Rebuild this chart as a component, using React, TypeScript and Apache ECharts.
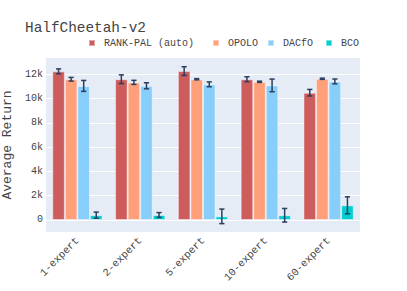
import React, { useEffect, useRef } from "react";
import * as echarts from "echarts";

const categories = ["1-expert", "2-expert", "5-expert", "10-expert", "60-expert"];
const seriesNames = ["RANK-PAL (auto)", "OPOLO", "DACfO", "BCO"];
const rankPal = [12250, 11600, 12270, 11600, 10490];
const rankPalErr = [200, 360, 360, 200, 270];
const opolo = [11600, 11340, 11600, 11390, 11640];
const opoloErr = [150, 170, 50, 50, 50];
const dacfo = [11050, 11060, 11180, 11090, 11420];
const dacfoErr = [450, 250, 200, 520, 200];
const bco = [400, 410, 300, 390, 1210];
const bcoErr = [250, 200, 600, 560, 700];
const colors = ["#CD5C5C", "#FFA07A", "#87CEFA", "#00CED1"];
const legendLeft = [88, 212, 267, 325];

const FONT = "'Liberation Mono', 'Courier New', monospace";

export default function App() {
  const ref = useRef<HTMLDivElement>(null);
  useEffect(() => {
    document.body.style.margin = "0";
    if (!ref.current) return;
    const chart = echarts.init(ref.current, null, { renderer: "svg" });
    const vals = [rankPal, opolo, dacfo, bco];
    const errs = [rankPalErr, opoloErr, dacfoErr, bcoErr];
    const barSeries = vals.map((v, k) => ({
      type: "bar",
      name: seriesNames[k],
      data: v,
      barCategoryGap: "20%",
      barGap: "0%",
      itemStyle: { color: colors[k], borderColor: "rgba(255,255,255,0.45)", borderWidth: 1 },
      z: 2,
    }));
    const errSeries = vals.map((v, k) => ({
      type: "custom",
      name: "err" + k,
      z: 5,
      silent: true,
      data: v.map((y, i) => [i, y, errs[k][i]]),
      encode: { x: 0, y: 1 },
      renderItem: (params: any, api: any) => {
        const ci = api.value(0);
        const y = api.value(1);
        const e = api.value(2);
        const band = api.size([1, 0])[0];
        const bw = (band * 0.8) / 4;
        const c = api.coord([ci, y]);
        const x = c[0] + (k - 1.5) * bw;
        const top = api.coord([ci, y + e])[1];
        const bot = api.coord([ci, y - e])[1];
        const style = { stroke: "#2a3f5f", lineWidth: 1.5 };
        const cap = 2.6;
        return {
          type: "group",
          children: [
            { type: "line", shape: { x1: x, y1: top, x2: x, y2: bot }, style },
            { type: "line", shape: { x1: x - cap, y1: top, x2: x + cap, y2: top }, style },
            { type: "line", shape: { x1: x - cap, y1: bot, x2: x + cap, y2: bot }, style },
          ],
        };
      },
    }));
    chart.setOption({
      animation: false,
      title: {
        text: "HalfCheetah-v2",
        left: 20,
        top: 16,
        textStyle: { fontFamily: FONT, fontSize: 14.4, fontWeight: "normal", color: "#444" },
      },
      legend: seriesNames.map((n, k) => ({
        data: [n],
        left: legendLeft[k],
        top: 38,
        padding: 0,
        itemWidth: 6,
        itemHeight: 6,
        icon: "rect",
        textStyle: { fontFamily: FONT, fontSize: 10, color: "#444", padding: [0, 0, 0, 4] },
      })),
      grid: {
        left: 46,
        right: 47,
        top: 58,
        bottom: 59,
        show: true,
        backgroundColor: "#E5ECF6",
        borderWidth: 0,
        containLabel: false,
        outerBoundsMode: "none",
      },
      xAxis: {
        type: "category",
        data: categories,
        axisLine: { show: false },
        axisTick: { show: false },
        axisLabel: {
          rotate: 45,
          margin: 7,
          fontFamily: FONT,
          fontSize: 10.5,
          color: "#444",
        },
      },
      yAxis: {
        type: "value",
        min: -990,
        max: 13350,
        splitNumber: 7,
        name: "Average Return",
        nameLocation: "middle",
        nameGap: 30,
        nameTextStyle: { fontFamily: FONT, fontSize: 13, color: "#444" },
        axisLine: { show: false },
        axisTick: { show: false },
        axisLabel: {
          showMinLabel: false,
          showMaxLabel: false,
          margin: 3,
          fontFamily: FONT,
          fontSize: 10,
          color: "#444",
          formatter: (v: number) => (v === 0 ? "0" : v / 1000 + "k"),
        },
        splitLine: { show: true, showMinLine: false, showMaxLine: false, lineStyle: { color: "#fff", width: 1 } },
      },
      series: [...barSeries, ...errSeries],
    });
    return () => chart.dispose();
  }, []);
  return <div ref={ref} style={{ width: 407, height: 291 }} />;
}
